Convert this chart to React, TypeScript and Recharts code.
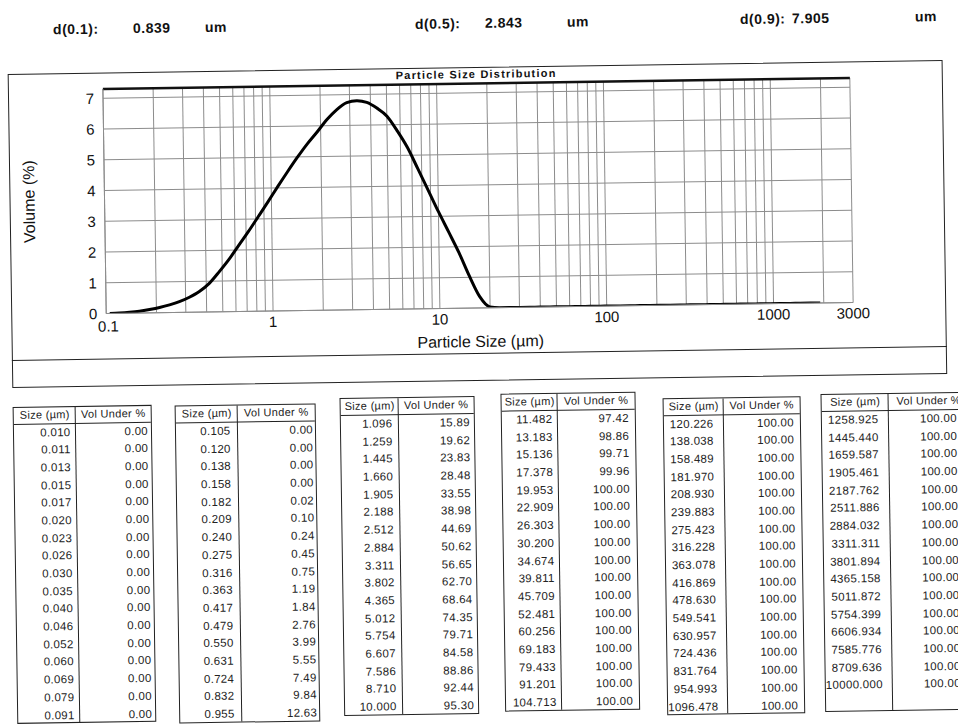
import React from 'react';
import { LineChart, Line, XAxis, YAxis, CartesianGrid, ReferenceLine } from 'recharts';

const FONT = "Arial, 'Liberation Sans', Helvetica, sans-serif";

// header results
const dLabels = ['d(0.1):', 'd(0.5):', 'd(0.9):'];
const dResults = ['0.839', '2.843', '7.905'];
const dUnit = 'um';

// table columns (Size µm / Vol Under %)
const sizes1 = ['0.010', '0.011', '0.013', '0.015', '0.017', '0.020', '0.023', '0.026', '0.030', '0.035', '0.040', '0.046', '0.052', '0.060', '0.069', '0.079', '0.091'];
const under1 = ['0.00', '0.00', '0.00', '0.00', '0.00', '0.00', '0.00', '0.00', '0.00', '0.00', '0.00', '0.00', '0.00', '0.00', '0.00', '0.00', '0.00'];
const sizes2 = ['0.105', '0.120', '0.138', '0.158', '0.182', '0.209', '0.240', '0.275', '0.316', '0.363', '0.417', '0.479', '0.550', '0.631', '0.724', '0.832', '0.955'];
const under2 = ['0.00', '0.00', '0.00', '0.00', '0.02', '0.10', '0.24', '0.45', '0.75', '1.19', '1.84', '2.76', '3.99', '5.55', '7.49', '9.84', '12.63'];
const sizes3 = ['1.096', '1.259', '1.445', '1.660', '1.905', '2.188', '2.512', '2.884', '3.311', '3.802', '4.365', '5.012', '5.754', '6.607', '7.586', '8.710', '10.000'];
const under3 = ['15.89', '19.62', '23.83', '28.48', '33.55', '38.98', '44.69', '50.62', '56.65', '62.70', '68.64', '74.35', '79.71', '84.58', '88.86', '92.44', '95.30'];
const sizes4 = ['11.482', '13.183', '15.136', '17.378', '19.953', '22.909', '26.303', '30.200', '34.674', '39.811', '45.709', '52.481', '60.256', '69.183', '79.433', '91.201', '104.713'];
const under4 = ['97.42', '98.86', '99.71', '99.96', '100.00', '100.00', '100.00', '100.00', '100.00', '100.00', '100.00', '100.00', '100.00', '100.00', '100.00', '100.00', '100.00'];
const sizes5 = ['120.226', '138.038', '158.489', '181.970', '208.930', '239.883', '275.423', '316.228', '363.078', '416.869', '478.630', '549.541', '630.957', '724.436', '831.764', '954.993', '1096.478'];
const under5 = ['100.00', '100.00', '100.00', '100.00', '100.00', '100.00', '100.00', '100.00', '100.00', '100.00', '100.00', '100.00', '100.00', '100.00', '100.00', '100.00', '100.00'];
const sizes6 = ['1258.925', '1445.440', '1659.587', '1905.461', '2187.762', '2511.886', '2884.032', '3311.311', '3801.894', '4365.158', '5011.872', '5754.399', '6606.934', '7585.776', '8709.636', '10000.000'];
const under6 = ['100.00', '100.00', '100.00', '100.00', '100.00', '100.00', '100.00', '100.00', '100.00', '100.00', '100.00', '100.00', '100.00', '100.00', '100.00', '100.00'];

// volume % curve at the table size classes 0.105 .. 1905.461 µm
const curveSizes = [...sizes2, ...sizes3, ...sizes4, ...sizes5, ...sizes6.slice(0, 4)];
const curveVolume = [
  0, 0.01, 0.03, 0.06, 0.11, 0.17, 0.25, 0.35, 0.49, 0.67, 0.93, 1.3, 1.7, 2.15, 2.6, 3.08, 3.56,
  4.05, 4.53, 4.99, 5.42, 5.8, 6.2, 6.52, 6.74, 6.8, 6.74, 6.55, 6.28, 5.8, 5.25, 4.56, 3.86, 3.15,
  2.48, 1.8, 1.04, 0.37, 0.03, 0, 0, 0, 0, 0, 0, 0, 0, 0, 0, 0, 0,
  0, 0, 0, 0, 0, 0, 0, 0, 0, 0, 0, 0, 0, 0, 0, 0, 0,
  0, 0, 0, 0,
];

const xGridTicks = [
  0.1, 0.2, 0.3, 0.4, 0.5, 0.6, 0.7, 0.8, 0.9,
  1, 2, 3, 4, 5, 6, 7, 8, 9,
  10, 20, 30, 40, 50, 60, 70, 80, 90,
  100, 200, 300, 400, 500, 600, 700, 800, 900,
  1000, 2000, 3000,
];
const xLabels = [0.1, 1, 10, 100, 1000, 3000];
const yTicks = [0, 1, 2, 3, 4, 5, 6, 7];

const chartData = curveSizes.map((s, i) => ({ size: Number(s), volume: curveVolume[i] }));

const tables = [
  { sizes: sizes1, under: under1, left: 12, top: 399.5, c1: 62, c2: 77, p1: 4, p2: 3 },
  { sizes: sizes2, under: under2, left: 174, top: 401, c1: 62, c2: 79, p1: 6, p2: 2 },
  { sizes: sizes3, under: under3, left: 339, top: 396, c1: 58, c2: 77, p1: 5, p2: 4 },
  { sizes: sizes4, under: under4, left: 500, top: 394, c1: 56, c2: 79, p1: 4, p2: 6 },
  { sizes: sizes5, under: under5, left: 662, top: 400.5, c1: 60, c2: 78, p1: 9, p2: 6 },
  { sizes: sizes6, under: under6, left: 820, top: 399, c1: 67, c2: 82, p1: 9, p2: 12 },
];

const ROW_H = 17.7;
const HEAD_H = 17;

const XTick = (props: any) => {
  const { x, y, payload } = props;
  if (!xLabels.includes(payload.value)) return <g />;
  const first = payload.value === xLabels[0];
  return (
    <text
      x={x}
      y={y}
      dx={first ? 2 : 0}
      dy={first ? 4.5 : 2.5}
      textAnchor="middle"
      dominantBaseline="central"
      fontSize={15}
      fill="#111"
      fontFamily={FONT}
    >
      {payload.value}
    </text>
  );
};

const YTick = (props: any) => {
  const { x, y, payload } = props;
  return (
    <text x={x} y={y} dx={-1} textAnchor="end" dominantBaseline="central" fontSize={15} fill="#111" fontFamily={FONT}>
      {payload.value}
    </text>
  );
};

function SizeTable({ t }: { t: (typeof tables)[number] }) {
  const rows = 17;
  return (
    <div
      style={{
        position: 'absolute',
        left: t.left,
        top: t.top,
        width: t.c1 + t.c2,
        height: HEAD_H + rows * ROW_H,
        border: '1.5px solid #222',
        boxSizing: 'border-box',
        fontSize: 11.5,
        letterSpacing: 0.3,
        color: '#222',
      }}
    >
      <div style={{ position: 'absolute', left: t.c1 - 1.5, top: 0, bottom: 0, borderLeft: '1.5px solid #222' }} />
      <div style={{ display: 'flex', height: HEAD_H, borderBottom: '1.5px solid #222', boxSizing: 'border-box', lineHeight: `${HEAD_H - 2}px` }}>
        <div style={{ width: t.c1, textAlign: 'center', fontSize: 11 }}>Size (µm)</div>
        <div style={{ flex: 1, textAlign: 'center', fontSize: 11, whiteSpace: 'nowrap' }}>Vol Under %</div>
      </div>
      {t.sizes.map((s, i) => (
        <div key={s} style={{ display: 'flex', height: ROW_H, lineHeight: `${ROW_H}px` }}>
          <div style={{ width: t.c1 - 1.5, textAlign: 'right', paddingRight: t.p1, boxSizing: 'border-box' }}>{s}</div>
          <div style={{ flex: 1, textAlign: 'right', paddingRight: t.p2, boxSizing: 'border-box' }}>{t.under[i]}</div>
        </div>
      ))}
    </div>
  );
}

const headerText: React.CSSProperties = {
  position: 'absolute',
  fontSize: 14,
  fontWeight: 700,
  color: '#111',
  lineHeight: '16px',
  whiteSpace: 'nowrap',
  letterSpacing: 0.5,
};

export default function App() {
  return (
    <div style={{ position: 'absolute', left: 0, top: 0, width: 958, height: 726, overflow: 'hidden', background: '#fff', fontFamily: FONT }}>
      <div style={{ position: 'absolute', left: 0, top: 0, width: 958, height: 726, transform: 'rotate(-0.85deg)', transformOrigin: '479px 363px' }}>
        {/* results line */}
        <div style={{ ...headerText, left: 58, top: 15 }}>{dLabels[0]}</div>
        <div style={{ ...headerText, left: 138, top: 15 }}>{dResults[0]}</div>
        <div style={{ ...headerText, left: 210, top: 15 }}>{dUnit}</div>
        <div style={{ ...headerText, left: 420, top: 15 }}>{dLabels[1]}</div>
        <div style={{ ...headerText, left: 490, top: 15 }}>{dResults[1]}</div>
        <div style={{ ...headerText, left: 572, top: 15 }}>{dUnit}</div>
        <div style={{ ...headerText, left: 745, top: 15 }}>{dLabels[2]}</div>
        <div style={{ ...headerText, left: 797, top: 15 }}>{dResults[2]}</div>
        <div style={{ ...headerText, left: 920, top: 15 }}>{dUnit}</div>

        {/* chart frame */}
        <div style={{ position: 'absolute', left: 12, top: 67, width: 935, height: 314, border: '1.5px solid #222', boxSizing: 'border-box' }} />
        <div style={{ position: 'absolute', left: 12, top: 353, width: 935, borderTop: '1.5px solid #222' }} />
        <div style={{ position: 'absolute', left: 400, top: 68, fontSize: 11, fontWeight: 700, letterSpacing: 1.2, color: '#111', whiteSpace: 'nowrap' }}>
          Particle Size Distribution
        </div>
        <div
          style={{
            position: 'absolute',
            left: 32,
            top: 195,
            fontSize: 16,
            color: '#111',
            whiteSpace: 'nowrap',
            transform: 'translate(-50%, -50%) rotate(-90deg)',
          }}
        >
          Volume (%)
        </div>
        <div style={{ position: 'absolute', left: 481, top: 342, fontSize: 16, color: '#111', whiteSpace: 'nowrap', transform: 'translate(-50%, -50%)' }}>
          Particle Size (µm)
        </div>

        <div style={{ position: 'absolute', left: 0, top: 0 }}>
          <LineChart width={958} height={360} data={chartData} margin={{ top: 83.5, right: 104, left: 67, bottom: 22 }}>
            <CartesianGrid stroke="#8c8c8c" strokeWidth={1} />
            <XAxis
              dataKey="size"
              type="number"
              scale="log"
              domain={[0.1, 3000]}
              allowDataOverflow
              ticks={xGridTicks}
              interval={0}
              tickLine={false}
              axisLine={{ stroke: '#8c8c8c' }}
              tick={<XTick />}
              height={30}
            />
            <YAxis
              type="number"
              domain={[0, 7.3]}
              allowDataOverflow
              ticks={yTicks}
              interval={0}
              tickLine={false}
              axisLine={{ stroke: '#8c8c8c' }}
              tick={<YTick />}
              width={40}
            />
            <ReferenceLine y={7.3} stroke="#111" strokeWidth={2.5} ifOverflow="visible" />
            <Line type="monotone" dataKey="volume" stroke="#000" strokeWidth={3} dot={false} isAnimationActive={false} />
          </LineChart>
        </div>

        {tables.map((t, i) => (
          <SizeTable key={i} t={t} />
        ))}
      </div>
    </div>
  );
}
